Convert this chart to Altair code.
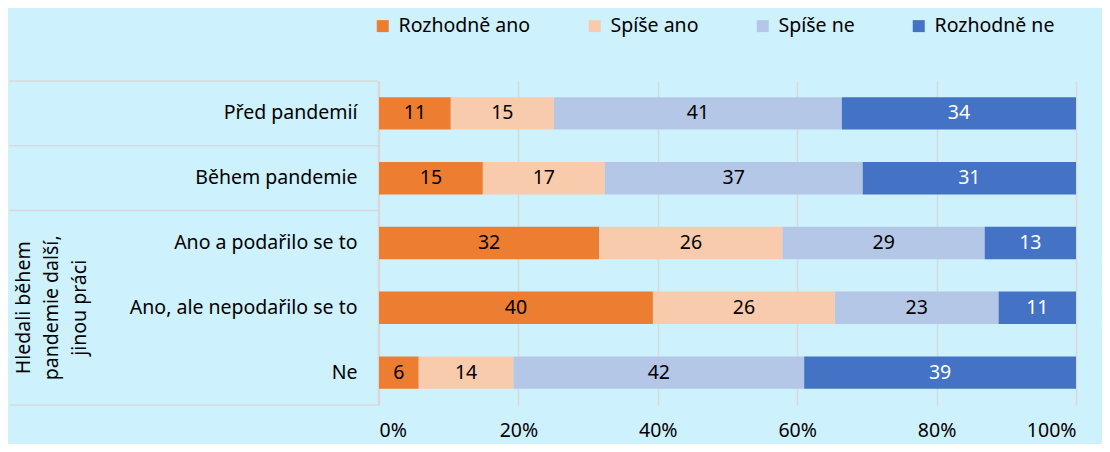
import altair as alt
import pandas as pd

categories = ["Před pandemií", "Během pandemie", "Ano a podařilo se to",
              "Ano, ale nepodařilo se to", "Ne"]
answers = ["Rozhodně ano", "Spíše ano", "Spíše ne", "Rozhodně ne"]
colors = ["#ED7D31", "#F8CBAD", "#B4C7E7", "#4472C4"]

rozhodne_ano = [10.3, 14.9, 31.6, 39.3, 5.7]
spise_ano = [14.8, 17.5, 26.3, 26.1, 13.6]
spise_ne = [41.3, 37.0, 29.0, 23.5, 41.7]
rozhodne_ne = [33.6, 30.6, 13.1, 11.1, 39.0]

labels_rozhodne_ano = [11, 15, 32, 40, 6]
labels_spise_ano = [15, 17, 26, 26, 14]
labels_spise_ne = [41, 37, 29, 23, 42]
labels_rozhodne_ne = [34, 31, 13, 11, 39]

x_ticks = [0, 20, 40, 60, 80, 100]
group_label = "Hledali během\npandemie další,\njinou práci"
group_rows = ["Ano a podařilo se to", "Ano, ale nepodařilo se to", "Ne"]
sep_top_rows = ["Před pandemií", "Během pandemie", "Ano a podařilo se to"]
sep_bottom_rows = ["Ne"]

series_values = [rozhodne_ano, spise_ano, spise_ne, rozhodne_ne]
series_labels = [labels_rozhodne_ano, labels_spise_ano, labels_spise_ne, labels_rozhodne_ne]

rows = []
for ai, (ans, vals, labs) in enumerate(zip(answers, series_values, series_labels)):
    for ci, cat in enumerate(categories):
        rows.append(dict(category=cat, answer=ans, value=vals[ci], label=str(labs[ci]), order=ai))
df = pd.DataFrame(rows)

FONT = "Noto Sans"
GRID = "#D9D9D9"
FS = 19.5

ysc = alt.Scale(domain=categories, paddingInner=0, paddingOuter=0)

base = alt.Chart(df).transform_stack(
    stack="value", as_=["x0", "x1"], groupby=["category"],
    sort=[alt.SortField("order", order="ascending")]
).transform_calculate(xm="(datum.x0 + datum.x1) / 2")

bars = base.mark_bar(height=alt.RelativeBandSize(0.5)).encode(
    y=alt.Y("category:N", scale=ysc, sort=categories,
            axis=alt.Axis(title=None, ticks=False, labelPadding=21, offset=1,
                          labelFontSize=FS, labelColor="#000000", labelFont=FONT,
                          domainColor=GRID, domainWidth=1.5, labelLimit=400)),
    x=alt.X("x0:Q", scale=alt.Scale(domain=[0, 100], nice=False),
            axis=alt.Axis(title=None, values=x_ticks, labelExpr="datum.value + '%'",
                          ticks=False, domain=False, grid=True, gridColor=GRID,
                          gridWidth=1.5, labelPadding=16, labelFontSize=FS,
                          labelFont=FONT, labelColor="#000000")),
    x2="x1:Q",
    color=alt.Color("answer:N", scale=alt.Scale(domain=answers, range=colors),
                    legend=alt.Legend(title=None, orient="none", direction="horizontal",
                                      legendX=-6, legendY=-65, symbolType="square",
                                      symbolSize=144, symbolStrokeWidth=0,
                                      labelFontSize=FS, labelFont=FONT,
                                      labelColor="#000000", columnPadding=54,
                                      labelOffset=6)),
    order=alt.Order("order:Q"),
)

texts = base.mark_text(fontSize=FS, font=FONT, baseline="middle", align="center").encode(
    y=alt.Y("category:N", scale=ysc, sort=categories),
    x=alt.X("xm:Q"),
    text="label:N",
    color=alt.condition(alt.datum.answer == "Rozhodně ne", alt.value("#FFFFFF"), alt.value("#000000")),
)

sep_top = alt.Chart(pd.DataFrame({"category": sep_top_rows})).mark_rule(
    color=GRID, strokeWidth=1.5).encode(
    y=alt.Y("category:N", scale=ysc, sort=categories, bandPosition=0),
    x=alt.value(-370), x2=alt.value(-1))

sep_bot = alt.Chart(pd.DataFrame({"category": sep_bottom_rows})).mark_rule(
    color=GRID, strokeWidth=1.5).encode(
    y=alt.Y("category:N", scale=ysc, sort=categories, bandPosition=1),
    x=alt.value(-370), x2=alt.value(-1))

grp = alt.Chart(pd.DataFrame({"category": [group_rows[1]], "t": [group_label]})).mark_text(
    angle=270, lineBreak="\n", lineHeight=28, align="center", baseline="middle",
    fontSize=FS, font=FONT, color="#000000").encode(
    y=alt.Y("category:N", scale=ysc, sort=categories),
    x=alt.value(-355), text="t:N")

chart = alt.layer(bars, texts, sep_top, sep_bot, grp).properties(
    width=697, height=324,
    background="#CEF1FE",
    padding={"left": 371, "top": 73, "right": 26, "bottom": 39},
    autosize=alt.AutoSizeParams(type="none"),
).configure_view(stroke=None)

chart.save("out.html", embed_options={"renderer": "svg", "actions": False})
